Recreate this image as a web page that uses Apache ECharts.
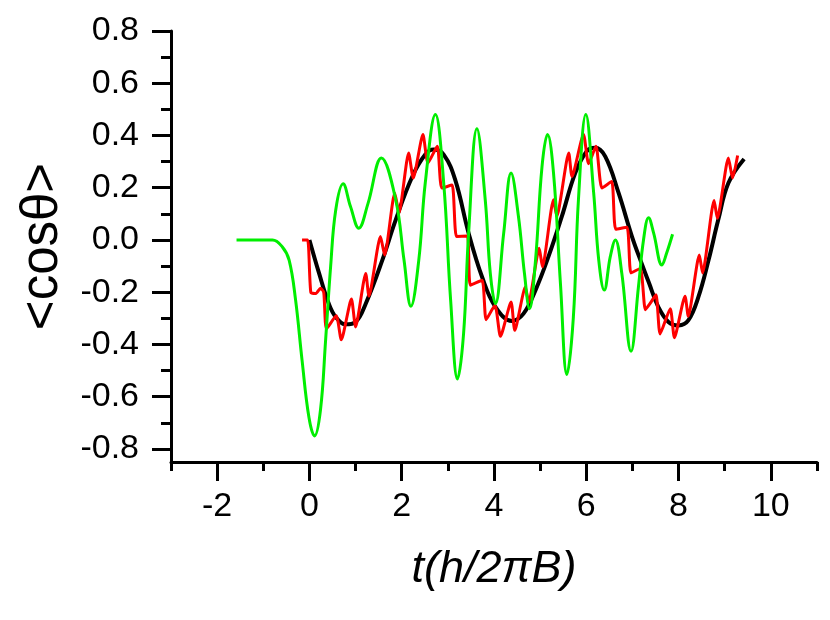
<!DOCTYPE html>
<html>
<head>
<meta charset="utf-8">
<script src="https://cdn.jsdelivr.net/npm/echarts@6/dist/echarts.min.js"></script>
<style>html,body{margin:0;padding:0;background:#fff}#c{width:830px;height:620px}</style>
</head>
<body>
<div id="c"></div>
<script>
// Tick values
const xMajorTicks = [-2, 0, 2, 4, 6, 8, 10];
const xMinorTicks = [-3, -1, 1, 3, 5, 7, 9, 11];
const yMajorTicks = [-0.8, -0.6, -0.4, -0.2, 0, 0.2, 0.4, 0.6, 0.8];
const yMinorTicks = [-0.7, -0.5, -0.3, -0.1, 0.1, 0.3, 0.5, 0.7];

// Black curve
const blackT = [0, 0.21, 0.42, 0.57, 0.78, 1.0, 1.22, 1.58, 1.87, 2.23, 2.51, 2.69, 2.91, 3.16, 3.45, 3.74, 4.03, 4.39, 4.64, 4.90, 5.18, 5.47, 5.76, 6.01, 6.19, 6.41, 6.70, 6.99, 7.20, 7.36, 7.56, 7.78, 8.0, 8.21, 8.43, 8.65, 8.86, 9.08, 9.42];
const blackV = [0, -0.128, -0.244, -0.295, -0.323, -0.314, -0.244, -0.077, 0.077, 0.243, 0.327, 0.346, 0.327, 0.23, 0.026, -0.141, -0.256, -0.31, -0.282, -0.192, -0.064, 0.09, 0.256, 0.34, 0.353, 0.32, 0.18, 0.013, -0.09, -0.165, -0.256, -0.314, -0.327, -0.308, -0.218, -0.077, 0.077, 0.218, 0.31];

// Red curve
const redT = [-0.16, -0.04, 0.03, 0.14, 0.24, 0.31, 0.37, 0.58, 0.69, 0.91, 1.0, 1.22, 1.29, 1.54, 1.63, 1.85, 1.94, 2.15, 2.25, 2.46, 2.57, 2.77, 2.87, 3.09, 3.19, 3.42, 3.49, 3.74, 3.83, 4.02, 4.14, 4.37, 4.45, 4.68, 4.75, 4.98, 5.05, 5.29, 5.36, 5.62, 5.69, 5.94, 6.05, 6.21, 6.34, 6.55, 6.64, 6.88, 6.97, 7.17, 7.28, 7.38, 7.51, 7.60, 7.82, 7.91, 8.14, 8.21, 8.45, 8.52, 8.77, 8.84, 9.08, 9.17, 9.28];
const redV = [0, 0, -0.2, -0.205, -0.185, -0.2, -0.34, -0.29, -0.382, -0.226, -0.333, -0.128, -0.215, 0.013, -0.058, 0.18, 0.103, 0.333, 0.237, 0.404, 0.295, 0.359, 0.199, 0.21, 0.013, 0.015, -0.173, -0.154, -0.305, -0.25, -0.369, -0.237, -0.346, -0.18, -0.24, -0.032, -0.103, 0.154, 0.09, 0.333, 0.243, 0.404, 0.292, 0.359, 0.199, 0.224, 0.041, 0.049, -0.126, -0.109, -0.267, -0.244, -0.21, -0.36, -0.263, -0.374, -0.215, -0.292, -0.058, -0.126, 0.151, 0.083, 0.314, 0.237, 0.323];

// Green curve
const greenT = [-1.58, -0.80, -0.59, -0.44, -0.30, -0.16, -0.01, 0.11, 0.24, 0.35, 0.46, 0.57, 0.73, 0.89, 1.07, 1.27, 1.56, 1.87, 2.05, 2.20, 2.37, 2.51, 2.73, 2.91, 3.06, 3.21, 3.34, 3.45, 3.63, 3.81, 3.92, 4.03, 4.21, 4.37, 4.53, 4.66, 4.77, 4.90, 5.04, 5.16, 5.29, 5.44, 5.58, 5.72, 5.83, 5.99, 6.16, 6.27, 6.39, 6.52, 6.63, 6.77, 6.97, 7.13, 7.24, 7.35, 7.46, 7.64, 7.74, 7.87];
const greenV = [0, 0, -0.026, -0.077, -0.23, -0.46, -0.68, -0.75, -0.65, -0.385, -0.10, 0.115, 0.215, 0.128, 0.045, 0.14, 0.314, 0.154, -0.077, -0.254, -0.077, 0.218, 0.48, 0.218, -0.23, -0.532, -0.36, 0.026, 0.426, 0.154, -0.128, -0.244, 0.026, 0.256, 0.09, -0.128, -0.263, -0.077, 0.28, 0.404, 0.256, -0.167, -0.515, -0.295, 0.154, 0.48, 0.18, -0.077, -0.192, -0.064, 0.0, -0.128, -0.426, -0.18, 0, 0.085, 0.026, -0.096, -0.051, 0.022];

const pairs = (t, v) => t.map((x, i) => [x, v[i]]);
const FONT = '"Liberation Sans", Arial, sans-serif';

const chart = echarts.init(document.getElementById('c'), null, {renderer: 'canvas'});
chart.setOption({
  animation: false,
  backgroundColor: '#fff',
  grid: {left: 171, right: 13, top: 31, bottom: 158, containLabel: false},
  xAxis: [
    {
      type: 'value', min: -3, max: 11, position: 'bottom',
      name: 't(h/2πB)', nameLocation: 'middle', nameGap: 85,
      nameTextStyle: {fontSize: 45, fontStyle: 'italic', color: '#000', fontFamily: FONT},
      axisLine: {show: true, onZero: false, lineStyle: {color: '#000', width: 3}},
      axisTick: {show: true, customValues: xMajorTicks, length: 19, lineStyle: {color: '#000', width: 3}},
      axisLabel: {show: true, customValues: xMajorTicks, fontSize: 34, color: '#000', fontFamily: FONT, margin: 28},
      splitLine: {show: false}
    },
    {
      type: 'value', min: -3, max: 11, position: 'bottom',
      axisLine: {show: false, onZero: false},
      axisTick: {show: true, customValues: xMinorTicks, length: 9, lineStyle: {color: '#000', width: 3}},
      axisLabel: {show: false},
      splitLine: {show: false}
    }
  ],
  yAxis: [
    {
      type: 'value', min: -0.85, max: 0.8, position: 'left',
      name: '<cosθ>', nameLocation: 'middle', nameGap: 103, nameRotate: 90,
      nameTextStyle: {fontSize: 51, color: '#000', fontFamily: FONT},
      axisLine: {show: true, onZero: false, lineStyle: {color: '#000', width: 3}},
      axisTick: {show: true, customValues: yMajorTicks, length: 19, lineStyle: {color: '#000', width: 3}},
      axisLabel: {show: true, customValues: yMajorTicks, fontSize: 34, color: '#000', fontFamily: FONT, margin: 32,
        formatter: v => v.toFixed(1)},
      splitLine: {show: false}
    },
    {
      type: 'value', min: -0.85, max: 0.8, position: 'left',
      axisLine: {show: false, onZero: false},
      axisTick: {show: true, customValues: yMinorTicks, length: 10, lineStyle: {color: '#000', width: 3}},
      axisLabel: {show: false},
      splitLine: {show: false}
    }
  ],
  series: [
    {type: 'line', data: pairs(blackT, blackV), showSymbol: false, smooth: 0.4,
      lineStyle: {color: '#000', width: 4}, z: 2},
    {type: 'line', data: pairs(redT, redV), showSymbol: false, smooth: 0.2,
      lineStyle: {color: '#ff0000', width: 3}, z: 3},
    {type: 'line', data: pairs(greenT, greenV), showSymbol: false, smooth: 0.4,
      lineStyle: {color: '#00ee00', width: 3}, z: 4}
  ]
});
</script>
</body>
</html>
